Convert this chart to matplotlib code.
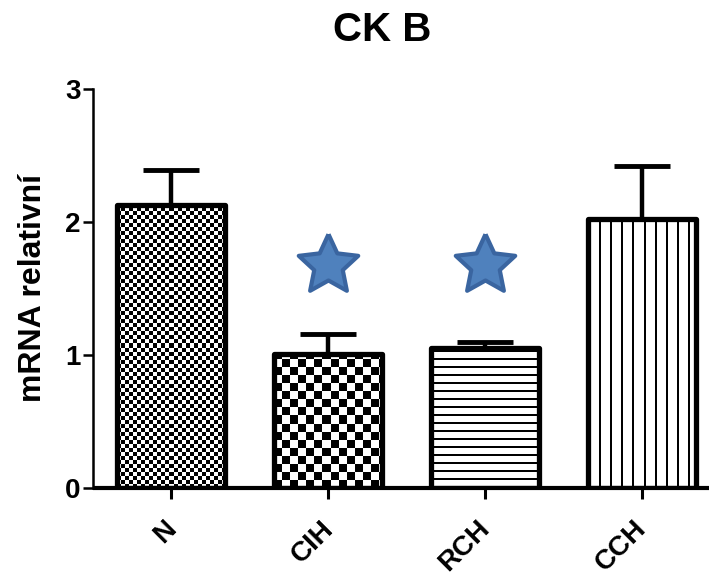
import numpy as np
import matplotlib as mpl
mpl.use("Agg")
import matplotlib.pyplot as plt
import matplotlib.transforms as mtransforms

mpl.rcParams['font.family'] = ['Liberation Sans', 'DejaVu Sans']
mpl.rcParams['font.weight'] = 'bold'

groups = ['N', 'CIH', 'RCH', 'CCH']
means = [2.13, 1.01, 1.05, 2.02]
sem = [0.26, 0.15, 0.05, 0.40]
signif = [False, True, True, False]
star_y = 1.68

fig = plt.figure(figsize=(7.09, 5.77), dpi=100)
ax = fig.add_axes([93/709, 89/577, (709-93)/709, (488-89)/577])
ax.set_xlim(-0.5, 3.43)
ax.set_ylim(0, 3)

x = np.arange(len(groups))
width = 0.69

# texture for each bar (pixel based)
def texture(kind, w, h):
    yy, xx = np.mgrid[0:h, 0:w]
    if kind == 0:
        s = 4
        return ((xx // s + yy // s) % 2).astype(float)
    if kind == 1:
        s = 8
        return ((xx // s + yy // s) % 2).astype(float)
    if kind == 2:
        return np.where(yy % 8 < 2, 0.0, 1.0)
    return np.where(xx % 11 < 2, 0.0, 1.0)

ax.errorbar(x, means, yerr=[np.zeros(len(x)), sem], fmt='none', ecolor='black',
            elinewidth=3.2, capsize=20, capthick=3.5, zorder=1)

bars = ax.bar(x, means, width=width, fill=False, edgecolor='black', linewidth=3.8, zorder=3)
for i, b in enumerate(bars):
    b.set_joinstyle('round')
    x0, y0 = ax.transData.transform((b.get_x(), 0))
    x1, y1 = ax.transData.transform((b.get_x() + width, means[i]))
    img = texture(i, int(round(x1 - x0)), int(round(y1 - y0)))
    im = ax.imshow(img, extent=(b.get_x(), b.get_x() + width, 0, means[i]), origin='lower',
                   cmap='gray', vmin=0, vmax=1, interpolation='nearest', aspect='auto', zorder=2)
    im.set_clip_path(b)

# fatter 5-point star
ang = np.pi/2 + np.arange(10) * np.pi/5
rad = np.where(np.arange(10) % 2 == 0, 1.0, 0.48)
star = np.column_stack([rad*np.cos(ang), rad*np.sin(ang)])
star = np.vstack([star, star[:1]])

for i in range(len(x)):
    if signif[i]:
        ax.plot(x[i], star_y, marker=star, markersize=45, markerfacecolor='#4F81BD',
                markeredgecolor='#3A65A0', markeredgewidth=3, zorder=4)

ax.set_xlim(-0.5, 3.43)
ax.set_ylim(0, 3)

for s in ['top', 'right']:
    ax.spines[s].set_visible(False)
ax.spines['left'].set_linewidth(1.8)
ax.spines['bottom'].set_linewidth(3)
ax.spines['bottom'].set_capstyle('butt')

ax.set_yticks([0, 1, 2, 3])
ax.set_xticks(x)
ax.set_xticklabels(groups, rotation=45, ha='right', rotation_mode='anchor')
ax.tick_params(axis='y', length=7, width=1.8, labelsize=20, pad=2)
ax.tick_params(axis='x', length=8, width=2.2, labelsize=20, pad=12)
shift = mtransforms.ScaledTranslation(-8/100, 0, fig.dpi_scale_trans)
for lab in ax.get_xticklabels():
    lab.set_transform(lab.get_transform() + shift)
for lab in ax.get_xticklabels() + ax.get_yticklabels():
    lab.set_fontweight('bold')

ax.set_ylabel('mRNA relativní', fontsize=23, fontweight='bold', labelpad=12)
fig.text(382/709, 1 - 30/577, 'CK B', ha='center', va='center', fontsize=29, fontweight='bold')

fig.savefig('out.png', dpi=100)
